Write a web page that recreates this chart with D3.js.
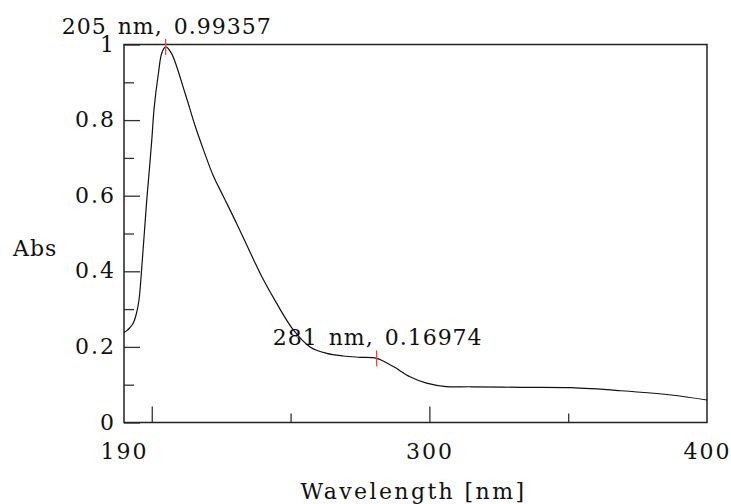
<!doctype html>
<html lang="en">
<head>
  <meta charset="UTF-8">
  <title>Absorbance spectrum</title>
<style>
  body{ margin: 0; background: #fff; }
  text{ font-family: "DejaVu Serif", "Liberation Serif", serif; fill: #111; }
  .axis path{ display: none; }
  .axis line{ stroke: #333; stroke-width: 1.3px; }
  .axis text{ font-size: 22px; letter-spacing: 2px; }
  .frame{ fill: none; stroke: #222; stroke-width: 1.5px; }
  .line{ fill: none; stroke: #111; stroke-width: 1.2px; }
  .peak{ stroke: #ff3b3b; stroke-width: 1.3px; }
  .note{ font-size: 22px; letter-spacing: 1px; word-spacing: 3px; }
  .title{ font-size: 22px; }
</style>
</head>
<body>
<script src="https://d3js.org/d3.v7.min.js"></script>
<script>
// spectrum
var wavelength = [190, 191, 192, 193.4, 194.6, 195.4, 196.6, 198.2, 199.2, 200, 200.9, 202.4, 203.6, 205,
                  207, 212, 215.6, 218.6, 222.2, 225.8, 230.6, 236.6, 239.6,
                  245, 251, 257, 263, 269, 275, 281,
                  287, 293, 299, 306, 315, 333, 351, 369, 387, 400];
var absorbance = [0.238, 0.243, 0.250, 0.264, 0.292, 0.324, 0.430, 0.589, 0.675, 0.747, 0.835, 0.924, 0.977, 0.99357,
                  0.978, 0.871, 0.785, 0.722, 0.652, 0.598, 0.526, 0.432, 0.386,
                  0.315, 0.245, 0.200, 0.183, 0.176, 0.1725, 0.16974,
                  0.148, 0.121, 0.104, 0.095, 0.0945, 0.093, 0.092, 0.084, 0.0728, 0.0595];

var peakWl = [205, 281];
var peakAbs = [0.99357, 0.16974];

var xLabelTicks = [190, 300, 400];
var xMajorTicks = [200, 300];
var xMinorTicks = [250, 350];
var yMajorTicks = [0, 0.2, 0.4, 0.6, 0.8, 1];
var yMinorTicks = [0.1, 0.3, 0.5, 0.7, 0.9];

var margin = {top: 44.5, right: 24, bottom: 81.5, left: 124},
    width = 731 - margin.left - margin.right,
    height = 504 - margin.top - margin.bottom;

var dataset = wavelength.map(function(w, i){ return {x: w, y: absorbance[i]}; });

var xScale = d3.scaleLinear().domain([190, 400]).range([0, width]);
var yScale = d3.scaleLinear().domain([0, 1]).range([height, 0]);

var svg = d3.select("body").append("svg")
    .attr("width", 731)
    .attr("height", 504)
    .append("g")
    .attr("transform", "translate(" + margin.left + "," + margin.top + ")");

// y ticks, drawn inward
svg.append("g").attr("class", "axis")
    .call(d3.axisLeft(yScale).tickValues(yMajorTicks).tickSize(-16).tickPadding(8)
      .tickFormat(function(d){ return d === 0 || d === 1 ? d3.format("d")(d) : d3.format(".1f")(d); }))
    .selectAll("text").attr("dy", "0.3em");

svg.append("g").attr("class", "axis")
    .call(d3.axisLeft(yScale).tickValues(yMinorTicks).tickSize(-10).tickFormat(""));

// x ticks, drawn inward, labels on their own axis
svg.append("g").attr("class", "axis")
    .attr("transform", "translate(0," + height + ")")
    .call(d3.axisBottom(xScale).tickValues(xMajorTicks).tickSize(-16).tickFormat(""));

svg.append("g").attr("class", "axis")
    .attr("transform", "translate(0," + height + ")")
    .call(d3.axisBottom(xScale).tickValues(xMinorTicks).tickSize(-9).tickFormat(""));

svg.append("g").attr("class", "axis")
    .attr("transform", "translate(0," + height + ")")
    .call(d3.axisBottom(xScale).tickValues(xLabelTicks).tickSize(0).tickPadding(21));

svg.append("rect")
    .attr("class", "frame")
    .attr("width", width)
    .attr("height", height);

var line = d3.line()
    .x(function(d) { return xScale(d.x); })
    .y(function(d) { return yScale(d.y); })
    .curve(d3.curveCatmullRom.alpha(0.5));

svg.append("path")
    .data([dataset])
    .attr("class", "line")
    .attr("d", line);

// peak picks
var peaks = peakWl.map(function(w, i){ return {x: w, y: peakAbs[i]}; });

svg.selectAll(".peak").data(peaks).enter().append("line")
    .attr("class", "peak")
    .attr("x1", function(d){ return xScale(d.x); })
    .attr("x2", function(d){ return xScale(d.x); })
    .attr("y1", function(d){ return yScale(d.y) - 8; })
    .attr("y2", function(d){ return yScale(d.y) + 8; });

svg.selectAll(".note").data(peaks).enter().append("text")
    .attr("class", "note")
    .attr("text-anchor", "middle")
    .attr("x", function(d){ return xScale(d.x) + 1; })
    .attr("y", function(d){ return yScale(d.y) - 13; })
    .text(function(d){ return d.x + " nm, " + d3.format(".5f")(d.y); });

// axis titles
svg.append("text")
    .attr("class", "title")
    .attr("x", width / 2 - 2)
    .attr("y", height + 76)
    .attr("text-anchor", "middle")
    .style("letter-spacing", "2.4px")
    .text("Wavelength [nm]");

svg.append("text")
    .attr("class", "title")
    .attr("x", 13 - margin.left)
    .attr("y", 256 - margin.top)
    .style("letter-spacing", "1px")
    .text("Abs");
</script>
</body>
</html>
